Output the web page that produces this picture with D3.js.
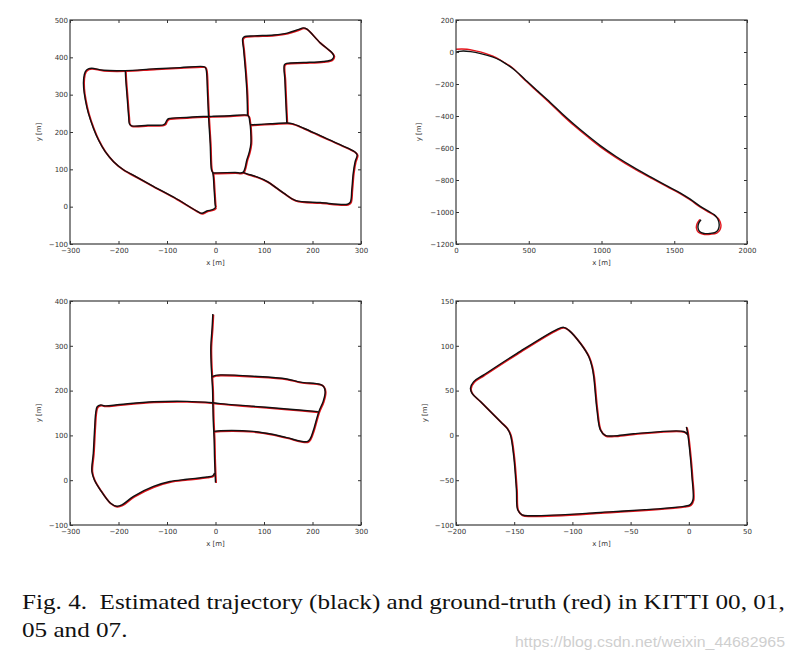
<!DOCTYPE html>
<html><head><meta charset="utf-8">
<script src="https://cdn.jsdelivr.net/npm/d3@7"></script>
<style>body{margin:0;background:#fff} svg{display:block}</style>
</head><body>
<svg id="c" width="796" height="661"></svg>
<script>
// ---------- DATA ----------
// KITTI 00 (polylines, metres)
const kitti00 = [
  [[0,0],[-1,-4],[-6,-8],[-17.9,-11.6],[-28.2,-17.8],[-36.5,-13.4],[-79.8,20.5],[-128,54.4],[-162.4,79.3],[-189.9,98.9],
   [-210.6,121.2],[-227.8,148],[-241.5,179.1],[-251.8,210.3],[-262.2,250.4],[-268.4,286.1],[-271.8,317.3],
   [-271.8,344],[-268.4,361.9],[-262.2,369],[-255.3,370.8],[-231,365.4],[-186,364.5],[-128,369],[-73,372.5],
   [-24.8,375.2],[-20.6,372.5],[-18.6,361.9],[-16.5,303.9],[-14.4,241.5],[-11,170.2],[-8.3,98.9],[-5.5,90],
   [-2.8,45.5],[-0.7,5.3],[0,0]],
  [[-186,364.5],[-185,340],[-182,290],[-179,240],[-177.5,222],[-173,216.6],[-140,218],[-108,219],[-104,222],
   [-101,230],[-97,235.5],[-60,239],[-25,241.5],[-14.4,241.5]],
  [[-14.4,241.5],[-5,242],[30,243.5],[66,245],[69,240],[70.5,228],[71.6,219],[73,190],[73,170],[70,148],
   [64.7,125.7],[56.4,91.8],[40,91.5],[5,90.5],[-5.5,90]],
  [[66,245],[65,300],[62,360],[58,420],[56,450],[59,455],[80,457.5],[120,460],[148,465],[170,474],[181,479],
   [188,476],[215,440],[241,411],[244,403],[240,394],[222,389],[182,386],[147,384],[142,380],[143,340],
   [145,280],[147,224]],
  [[71.6,219],[78,219.5],[113,222],[147,224],[158,222.5],[182,210],[216,190],[257,166],[287,147],[292,139],
   [288,121],[284,90],[281,45],[278,12],[272,6.5],[216,11],[164.5,17],[140,37],[106,68],[85,80],[65,88],[56.4,91.8]]
];

// KITTI 01 ground truth (red) and estimate (black)
const kitti01_gt = [[0,17],[40,18.5],[76,17],[130,8],[190,-5],[250,-25],[305,-50],[350,-75],[396,-105],[440,-145],
  [488,-188],[560,-248],[648,-322],[730,-393],[809,-458],[900,-527],[992,-593],[1100,-660],[1221,-728],
  [1340,-788],[1450,-842],[1540,-885],[1610,-925],[1679,-970],[1740,-1002],[1782,-1024],[1810,-1050],
  [1821,-1082],[1814,-1112],[1792,-1132],[1750,-1139],[1700,-1139],[1666,-1126],[1652,-1100],[1658,-1070],[1676,-1046]];
const kitti01_est = [[0,-8],[2,0],[20,3],[50,6],[100,2],[170,-10],[250,-30],[305,-52],[350,-78],[396,-108],[440,-142],
  [488,-183],[560,-243],[648,-315],[730,-386],[809,-450],[900,-519],[992,-585],[1100,-653],[1221,-721],
  [1340,-782],[1450,-837],[1540,-880],[1610,-920],[1679,-965],[1740,-998],[1776,-1018],[1800,-1045],
  [1809,-1080],[1802,-1110],[1782,-1127],[1745,-1134],[1705,-1134],[1674,-1122],[1663,-1098],[1669,-1068],[1684,-1048]];

// KITTI 05
const kitti05 = [
  [[-5.5,371],[-7,340],[-9.6,298],[-9,260],[-7.6,231],[-6,200],[-5.5,172],[-4.5,130],[-2.8,90],[-2,50],[-0.7,12],[0,-5]],
  [[-7,231],[0,234],[10,235],[78,232],[147,226],[175,219],[216,214],[223,209],[226,198],[222,176],[213,153],
   [202,112],[195,92],[189,86],[147,95],[120,102],[78,109],[10,110.5],[-3,109]],
  [[-5.5,173],[10,171],[78,165],[147,159],[211,153]],
  [[-5.5,173],[-59,176],[-128,175],[-197,169],[-228,166],[-237,168],[-244,164],[-247,150],[-249,120],
   [-252,60],[-255,20],[-250,1],[-238,-21],[-217,-51],[-204,-58],[-193,-55],[-169,-36],[-128,-14],
   [-94,-3],[-59,2],[-18,7],[-5.5,10],[-2,16]]
];

// KITTI 07
const kitti07 = [
  [[-1,1],[-4.4,4.4],[-47.4,1.8],[-64.5,-0.5],[-71.7,-0.1],[-76,6.2],[-78.9,28.5],[-81.7,65.7],[-83.2,76.8],
   [-86,88],[-93.2,102.8],[-103.2,117.5],[-107.5,120.6],[-113.2,118.4],[-147.6,91.6],[-176.2,67.5],
   [-184.8,60],[-187.6,52.6],[-186.2,47],[-179,37.8],[-161.9,15.5],[-156.2,8.1],[-153.3,0.7],[-150.4,-23.5],
   [-148.1,-60.6],[-147,-83],[-143.3,-88.6],[-136.2,-89.7],[-76,-86],[-4.4,-79.2],[1.3,-77.3],[3.6,-71.8],
   [2.7,-45.8],[0.7,-16],[-1,2.5],[-2.1,9.5]]
];

// tick values
const xTicks00 = [-300,-200,-100,0,100,200,300];
const yTicks00 = [-100,0,100,200,300,400,500];
const xTicks01 = [0,500,1000,1500,2000];
const yTicks01 = [-1200,-1000,-800,-600,-400,-200,0,200];
const xTicks05 = [-300,-200,-100,0,100,200,300];
const yTicks05 = [-100,0,100,200,300,400];
const xTicks07 = [-200,-150,-100,-50,0,50];
const yTicks07 = [-100,-50,0,50,100,150];

const captionLine1 = "Fig. 4.\u00A0\u00A0Estimated trajectory (black) and ground-truth (red) in KITTI 00, 01,";
const captionLine2 = "05 and 07.";
const watermark = "https://blog.csdn.net/weixin_44682965";

// ---------- LAYOUT ----------
const panels = [
  {box:[70,20,361,244], xd:[-300,300], yd:[-100,500], xt:xTicks00, yt:yTicks00, gt:kitti00, est:kitti00, yLabDx:29},
  {box:[456,20,747,244], xd:[0,2000], yd:[-1200,200], xt:xTicks01, yt:yTicks01, gt:[kitti01_gt], est:[kitti01_est], yLabDx:35},
  {box:[70,301,361,525], xd:[-300,300], yd:[-100,400], xt:xTicks05, yt:yTicks05, gt:kitti05, est:kitti05, yLabDx:29},
  {box:[456,301,747,525], xd:[-200,50], yd:[-100,150], xt:xTicks07, yt:yTicks07, gt:kitti07, est:kitti07, yLabDx:29}
];

const svg = d3.select("#c");
const axisColor = "#333";
const tickFont = "DejaVu Sans, sans-serif";

panels.forEach((p, i) => {
  const [x0,y0,x1,y1] = p.box;
  const x = d3.scaleLinear().domain(p.xd).range([x0,x1]);
  const y = d3.scaleLinear().domain(p.yd).range([y1,y0]);
  const g = svg.append("g");

  const clipId = "clip" + i;
  svg.append("clipPath").attr("id", clipId).append("rect")
    .attr("x", x0).attr("y", y0).attr("width", x1-x0).attr("height", y1-y0);

  const line = d3.line().x(d => x(d[0])).y(d => y(d[1])).curve(d3.curveCatmullRom.alpha(0.5));
  const same = p.gt === p.est;
  const lines = g.append("g").attr("clip-path", `url(#${clipId})`);
  lines.selectAll("path.gt").data(p.gt).join("path").attr("class","gt")
    .attr("d", line).attr("fill","none").attr("stroke","#e3141b")
    .attr("stroke-width", same ? 1.8 : 1.4).attr("stroke-linejoin","round")
    .attr("transform", same ? "translate(0.6,0.6)" : null);
  lines.selectAll("path.est").data(p.est).join("path").attr("class","est")
    .attr("d", line).attr("fill","none").attr("stroke","#111")
    .attr("stroke-width", 1.4).attr("stroke-linejoin","round");

  const fmt = d3.format("d");
  const style = sel => {
    sel.select(".domain").remove();
    sel.selectAll(".tick line").attr("stroke", axisColor);
    sel.selectAll("text").attr("font-size", 7).attr("font-family", tickFont).attr("fill", axisColor);
  };
  g.append("g").attr("transform", `translate(0,${y1})`)
    .call(d3.axisBottom(x).tickValues(p.xt).tickSize(-3).tickPadding(4).tickFormat(fmt)).call(style);
  g.append("g").attr("transform", `translate(0,${y0})`)
    .call(d3.axisTop(x).tickValues(p.xt).tickSize(-3).tickFormat(() => "")).call(style);
  g.append("g").attr("transform", `translate(${x0},0)`)
    .call(d3.axisLeft(y).tickValues(p.yt).tickSize(-3).tickPadding(2).tickFormat(fmt)).call(style);
  g.append("g").attr("transform", `translate(${x1},0)`)
    .call(d3.axisRight(y).tickValues(p.yt).tickSize(-3).tickFormat(() => "")).call(style);

  g.append("rect").attr("x", x0).attr("y", y0).attr("width", x1-x0).attr("height", y1-y0)
    .attr("fill","none").attr("stroke", "#3a3a3a").attr("stroke-width", 1.2);

  g.append("text").attr("x", (x0+x1)/2).attr("y", y1+21).attr("text-anchor","middle")
    .attr("font-size", 7).attr("font-family", tickFont).attr("fill", axisColor).text("x [m]");
  g.append("text").attr("transform", `translate(${x0 - p.yLabDx},${(y0+y1)/2}) rotate(-90)`)
    .attr("text-anchor","middle").attr("font-size", 7).attr("font-family", tickFont)
    .attr("fill", axisColor).text("y [m]");
});

// caption (the reference text is horizontally stretched; apply one common stretch factor)
const capFont = "Liberation Serif, Times New Roman, serif";
const capG = svg.append("g");
const cap1 = capG.append("text").attr("x", 0).attr("y", 609)
  .attr("font-family", capFont).attr("font-size", 20).attr("fill", "#111").text(captionLine1);
const cap2 = capG.append("text").attr("x", 0).attr("y", 637)
  .attr("font-family", capFont).attr("font-size", 20).attr("fill", "#111").text(captionLine2);
const w1 = cap1.node().getComputedTextLength();
const k = 763 / w1;
capG.attr("transform", `translate(22,0) scale(${k},1)`);

// watermark
svg.append("text").attr("x", 515).attr("y", 647)
  .attr("font-family", "Liberation Sans, Arial, sans-serif").attr("font-size", 14)
  .attr("fill", "#cfcfcf").attr("textLength", 270).attr("lengthAdjust", "spacingAndGlyphs")
  .text(watermark);
</script>
</body></html>
